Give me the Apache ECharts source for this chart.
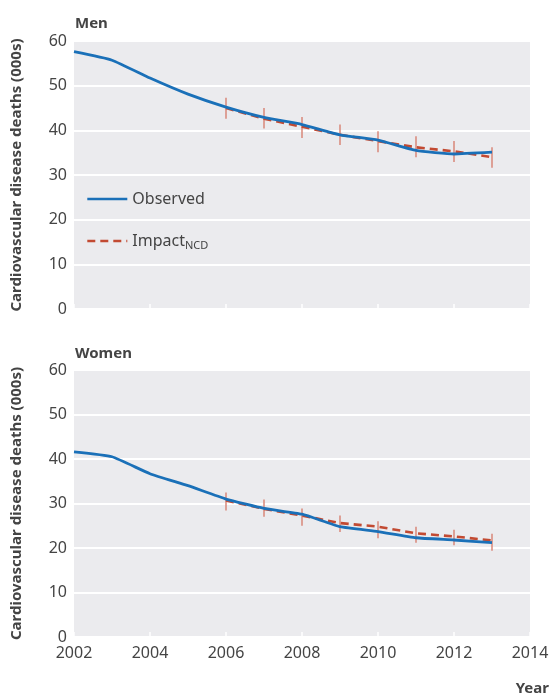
<!DOCTYPE html>
<html>
<head>
<meta charset="utf-8">
<script src="https://cdn.jsdelivr.net/npm/echarts@6/dist/echarts.min.js"></script>
<style>
  html, body { margin: 0; padding: 0; background: #fff; }
  #chart { width: 558px; height: 695px; }
</style>
</head>
<body>
<div id="chart"></div>
<script>
// data (deaths, 000s)
var years = [2002, 2003, 2004, 2005, 2006, 2007, 2008, 2009, 2010, 2011, 2012, 2013];
var impactYears = [2006, 2007, 2008, 2009, 2010, 2011, 2012, 2013];

var menObserved = [57.6, 55.7, 51.7, 48.1, 45.2, 42.9, 41.3, 39.0, 37.8, 35.5, 34.7, 35.1];
var menImpact = [45.0, 42.6, 40.8, 39.0, 37.6, 36.2, 35.3, 34.0];
var menLow = [42.6, 40.4, 38.3, 36.7, 35.1, 34.0, 32.9, 31.6];
var menHigh = [47.3, 45.0, 43.0, 41.3, 39.8, 38.7, 37.6, 36.2];

var womenObserved = [41.6, 40.5, 36.7, 34.0, 31.0, 28.9, 27.6, 24.8, 23.7, 22.3, 21.8, 21.2];
var womenImpact = [30.7, 28.8, 27.3, 25.6, 24.8, 23.3, 22.6, 21.7];
var womenLow = [28.4, 27.0, 25.0, 23.6, 22.2, 21.2, 20.6, 19.4];
var womenHigh = [32.5, 30.9, 28.9, 27.3, 26.0, 24.8, 24.1, 23.2];

var yTicks = [0, 10, 20, 30, 40, 50, 60];
var yTitle = 'Cardiovascular disease deaths (000s)';

var FONT = 'Noto Sans';
var TXT = '#444';
var BLUE = '#1a70b8';
var RED = '#c24a32';
var BAR = '#d98778';

function zip(xs, ys) {
    var out = [];
    for (var i = 0; i < xs.length; i++) out.push([xs[i], ys[i]]);
    return out;
}
function zip3(xs, lo, hi) {
    var out = [];
    for (var i = 0; i < xs.length; i++) out.push([xs[i], lo[i], hi[i]]);
    return out;
}

// vertical uncertainty bars
function renderBar(params, api) {
    var top = api.coord([api.value(0), api.value(2)]);
    var bot = api.coord([api.value(0), api.value(1)]);
    return {
        type: 'line',
        shape: { x1: top[0], y1: top[1], x2: bot[0], y2: bot[1] },
        style: { stroke: BAR, lineWidth: 1.5 }
    };
}

function xAxisFor(idx, showLabels) {
    return {
        type: 'value', gridIndex: idx, min: 2002, max: 2014, interval: 2,
        axisLine: { show: false },
        axisTick: { show: true, inside: true, length: 5, lineStyle: { color: '#fff', width: 1.5 } },
        splitLine: { show: false },
        axisLabel: {
            show: showLabels, color: TXT, fontFamily: FONT, fontSize: 16, margin: 8,
            formatter: function (v) { return String(v); }
        }
    };
}
function yAxisFor(idx) {
    return {
        type: 'value', gridIndex: idx, min: yTicks[0], max: yTicks[yTicks.length - 1], interval: 10,
        name: yTitle, nameLocation: 'middle', nameGap: 50, nameRotate: 90,
        nameTextStyle: { color: TXT, fontFamily: FONT, fontSize: 15, fontWeight: 'bold' },
        axisLine: { show: false },
        axisTick: { show: false },
        axisLabel: { color: TXT, fontFamily: FONT, fontSize: 16, margin: 7 },
        splitLine: { show: true, lineStyle: { color: '#fff', width: 2 } }
    };
}

var chart = echarts.init(document.getElementById('chart'), null, { renderer: 'canvas' });

var option = {
    animation: false,
    backgroundColor: '#fff',
    textStyle: { fontFamily: FONT },
    title: [
        { text: 'Men', left: 70, top: 11, textStyle: { color: TXT, fontFamily: FONT, fontSize: 15, fontWeight: 'bold' } },
        { text: 'Women', left: 70, top: 341, textStyle: { color: TXT, fontFamily: FONT, fontSize: 15, fontWeight: 'bold' } },
        { text: 'Year', right: 4, top: 676, textStyle: { color: TXT, fontFamily: FONT, fontSize: 15, fontWeight: 'bold' } }
    ],
    grid: [
        { left: 74, top: 41, width: 456, height: 268, show: true, backgroundColor: '#ebebee', borderWidth: 0 },
        { left: 74, top: 370, width: 456, height: 267, show: true, backgroundColor: '#ebebee', borderWidth: 0 }
    ],
    legend: {
        orient: 'vertical', left: 81, top: 186, itemGap: 26,
        itemWidth: 40, itemHeight: 14,
        itemStyle: { opacity: 0 },
        lineStyle: { width: 2.6 },
        textStyle: {
            color: TXT, fontFamily: FONT, fontSize: 16,
            rich: { sub: { fontSize: 11, color: TXT, fontFamily: FONT, padding: [10, 0, 0, 0] } }
        },
        formatter: function (name) {
            return name === 'Impact' ? 'Impact{sub|NCD}' : name;
        },
        data: ['Observed', 'Impact']
    },
    xAxis: [xAxisFor(0, false), xAxisFor(1, true)],
    yAxis: [yAxisFor(0), yAxisFor(1)],
    series: [
        {
            name: 'Impact', type: 'line', xAxisIndex: 0, yAxisIndex: 0, symbol: 'none',
            lineStyle: { color: RED, width: 2.6, type: [8, 5] }, itemStyle: { color: RED },
            data: zip(impactYears, menImpact), z: 3
        },
        {
            name: 'Impact range', type: 'custom', xAxisIndex: 0, yAxisIndex: 0,
            renderItem: renderBar, data: zip3(impactYears, menLow, menHigh), z: 2
        },
        {
            name: 'Observed', type: 'line', xAxisIndex: 0, yAxisIndex: 0, symbol: 'none', smooth: 0.15,
            lineStyle: { color: BLUE, width: 2.8 }, itemStyle: { color: BLUE },
            data: zip(years, menObserved), z: 4
        },
        {
            name: 'Impact', type: 'line', xAxisIndex: 1, yAxisIndex: 1, symbol: 'none',
            lineStyle: { color: RED, width: 2.6, type: [8, 5] }, itemStyle: { color: RED },
            data: zip(impactYears, womenImpact), z: 3
        },
        {
            name: 'Impact range', type: 'custom', xAxisIndex: 1, yAxisIndex: 1,
            renderItem: renderBar, data: zip3(impactYears, womenLow, womenHigh), z: 2
        },
        {
            name: 'Observed', type: 'line', xAxisIndex: 1, yAxisIndex: 1, symbol: 'none', smooth: 0.15,
            lineStyle: { color: BLUE, width: 2.8 }, itemStyle: { color: BLUE },
            data: zip(years, womenObserved), z: 4
        }
    ]
};

chart.setOption(option);
</script>
</body>
</html>
